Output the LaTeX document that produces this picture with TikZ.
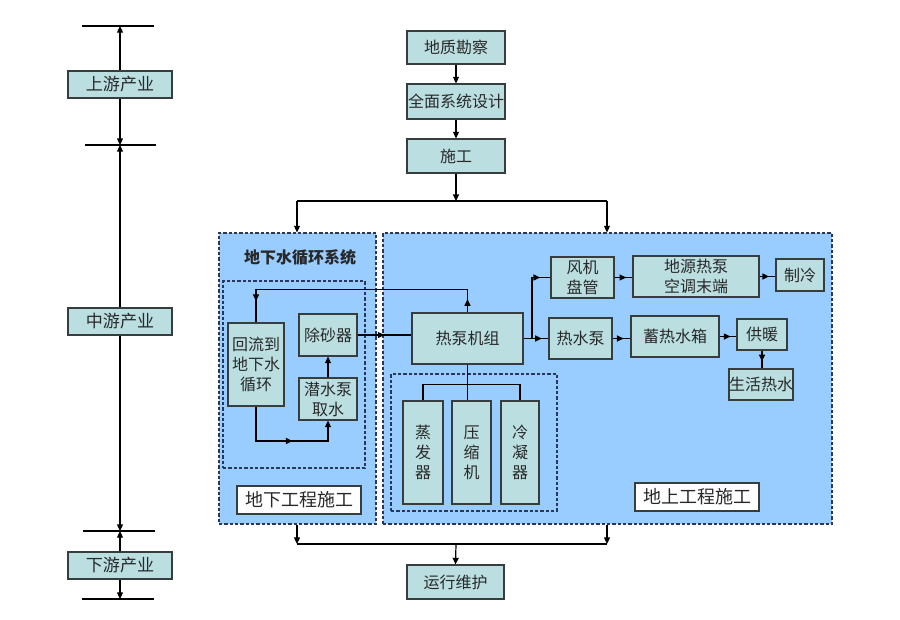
\documentclass[tikz,border=0pt]{standalone}
\usepackage{fontspec}
\setmainfont{Noto Sans CJK SC}
\usetikzlibrary{arrows.meta,decorations.markings}
\definecolor{boxfill}{RGB}{187,223,225}
\definecolor{boxline}{RGB}{55,60,60}
\definecolor{textc}{RGB}{40,40,40}
\definecolor{regblue}{RGB}{153,204,255}
\definecolor{dashc}{RGB}{40,55,90}
\tikzset{
  boxst/.style={draw=boxline, fill=boxfill, line width=0.8pt, inner sep=0pt, align=center,
    font=\fontsize{12}{15}\selectfont, text=textc},
  sidebox/.style={font=\fontsize{12.8}{15}\selectfont},
  whitebox/.style={fill=white, font=\fontsize{13.5}{16}\selectfont},
  region/.style={draw=dashc, fill=regblue, dash pattern=on 2.5pt off 1.5pt, line width=0.8pt, inner sep=0pt},
  subregion/.style={draw=dashc, dash pattern=on 2.5pt off 1.5pt, line width=0.8pt, inner sep=0pt},
  conn/.style={line width=0.9pt, draw=black},
  arr/.style={conn, -{Triangle[length=5pt,width=4.5pt]}},
  marr/.style={postaction={decorate, decoration={markings,
     mark=at position #1 with {\arrow{Triangle[length=5pt,width=4.5pt]}}}}},
}
\newcommand\mybox[7][]{\node[boxst,#1,minimum width={(#5-#3)*0.75pt},minimum height={(#6-#4)*0.75pt}] (#2) at ({(#3+#5)/2},{(#4+#6)/2}) {#7};}
\begin{document}
\begin{tikzpicture}[x=0.75pt,y=-0.75pt]
\useasboundingbox (0,0) rectangle (900,619);
\fill[white] (0,0) rectangle (900,619);

% ---- left column ----
\mybox[sidebox]{up}{68}{71}{172}{98}{上游产业}
\mybox[sidebox]{mid}{68}{308}{172}{335}{中游产业}
\mybox[sidebox]{down}{68}{552}{172}{579}{下游产业}
\coordinate (t1) at (120,26);
\coordinate (t2) at (120,145);
\coordinate (t3) at (120,531);
\coordinate (t4) at (120,599);
\draw[conn] (82,26) -- (154,26);
\draw[conn] (85,145) -- (156,145);
\draw[conn] (83,531) -- (155,531);
\draw[conn] (82,599) -- (154,599);
\draw[arr] (up.north) -- (t1);
\draw[arr] (up.south) -- (t2);
\draw[arr] (mid.north) -- (t2);
\draw[arr] (mid.south) -- (t3);
\draw[arr] (down.north) -- (t3);
\draw[arr] (down.south) -- (t4);

% ---- top chain ----
\mybox{dz}{407}{31}{505}{64}{地质勘察}
\mybox{sj}{407}{84}{505}{119}{全面系统设计}
\mybox{sg}{407}{139}{505}{173}{施工}
\mybox{yw}{407}{565}{504}{599}{运行维护}

% ---- regions ----
\mybox[region]{L}{219}{233}{376}{524}{}
\mybox[region]{R}{383}{233}{832}{524}{}
\mybox[subregion,fill=none]{Li}{223}{281}{365}{468}{}
\mybox[subregion,fill=none]{Ri}{391}{374}{557}{511}{}
\node[font=\bfseries\fontsize{12}{15}\selectfont, text=textc] (ttl) at (300,257) {地下水循环系统};

% ---- underground ----
\mybox{hl}{228}{323}{284}{406}{回流到\\地下水\\循环}
\mybox{cs}{299}{314}{357}{356}{除砂器}
\mybox{qs}{299}{378}{357}{420}{潜水泵\\取水}
\mybox[whitebox]{dx}{237}{486}{361}{514}{地下工程施工}

% ---- above ground ----
\mybox{hp}{412}{313}{523}{364}{热泵机组}
\mybox{zf}{403}{401}{443}{504}{蒸\\发\\器}
\mybox{ys}{452}{401}{491}{504}{压\\缩\\机}
\mybox{ln}{501}{401}{539}{504}{冷\\凝\\器}
\mybox{fan}{551}{257}{614}{298}{风机\\盘管}
\mybox{dy}{633}{256}{759}{297}{地源热泵\\空调末端}
\mybox{zl}{776}{259}{824}{291}{制冷}
\mybox{pump}{549}{318}{612}{359}{热水泵}
\mybox{xr}{631}{316}{719}{357}{蓄热水箱}
\mybox{gn}{737}{319}{787}{350}{供暖}
\mybox{sh}{729}{369}{793}{400}{生活热水}
\mybox[whitebox]{ds}{635}{483}{759}{511}{地上工程施工}

% ---- top connectors ----
\draw[arr] (dz.south) -- (sj.north);
\draw[arr] (sj.south) -- (sg.north);
\coordinate (j1) at (456,201);
\coordinate (j1L) at (297,201);
\coordinate (j1R) at (607,201);
\draw[arr, line width=1.3pt] (sg.south) -- (j1);
\draw[conn] (j1L) -- (j1R);
\draw[arr] (j1L) -- (j1L |- L.north);
\draw[arr] (j1R) -- (j1R |- R.north);

% ---- bottom connectors ----
\coordinate (j2) at (456,544);
\coordinate (j2L) at (297,544);
\coordinate (j2R) at (607,544);
\draw[arr] (j2L |- L.south) -- (j2L);
\draw[arr] (j2R |- R.south) -- (j2R);
\draw[conn] (j2L) -- (j2R);
\draw[arr] (j2) -- (yw.north);

% ---- underground loop ----
\draw[conn, marr=0.05, marr=0.92] (hp.north) -- ++(0,-23) -| (hl.north);
\coordinate (b1) at (328,441);
\draw[arr, marr=0.56] (hl.south) |- (b1) -- (qs.south);
\draw[arr] (qs.north) -- (cs.south);
\draw[conn, marr=0.5] (cs.east) -- (cs.east -| hp.west);

% ---- heat pump internals ----
\draw[conn] (hp.south) -- (hp.south |- ys.north);
\draw[conn] (zf.north) -- ++(0,-16) -| (ln.north);

% ---- above ground flow ----
\coordinate (sp) at (532,338.5);
\draw[conn] (hp.east) -- (sp);
\draw[conn, marr=0.87] (sp) |- (fan.west);
\draw[conn, marr=0.6] (sp) -- (pump.west);
\draw[conn, marr=0.65] (fan.east) -- (fan.east -| dy.west);
\draw[conn, marr=0.6] (dy.east) -- (dy.east -| zl.west);
\draw[conn, marr=0.62] (pump.east) -- (pump.east -| xr.west);
\draw[conn, marr=0.65] (xr.east) -- (xr.east -| gn.west);
\draw[conn, marr=0.6] (gn.south) -- (gn.south |- sh.north);
\end{tikzpicture}
\end{document}
